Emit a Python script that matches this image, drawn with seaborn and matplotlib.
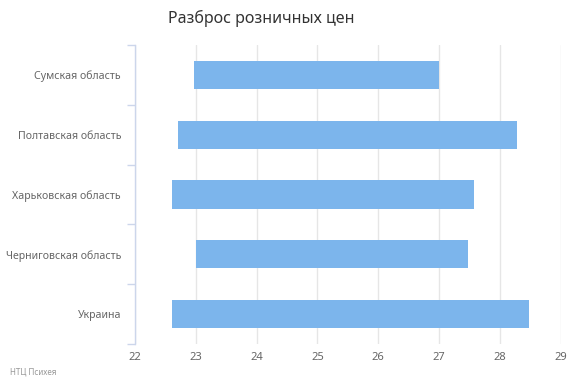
import matplotlib
matplotlib.use("Agg")
import matplotlib.pyplot as plt
import seaborn as sns
import pandas as pd
import numpy as np

categories = ["Сумская область", "Полтавская область", "Харьковская область",
              "Черниговская область", "Украина"]
low = [22.97, 22.71, 22.61, 23.01, 22.61]
high = [27.0, 28.28, 27.58, 27.48, 28.48]
x_ticks = [22, 23, 24, 25, 26, 27, 28, 29]

title = "Разброс розничных цен"
credit = "НТЦ Психея"

df = pd.DataFrame({"cat": categories, "low": low, "high": high})
df["spread"] = df["high"] - df["low"]

sns.set_theme(style="white")
plt.rcParams["font.family"] = ["Noto Sans", "DejaVu Sans"]

fig = plt.figure(figsize=(5.7, 3.8), dpi=100)
ax = fig.add_axes([135 / 570, 1 - 344 / 380, (560.7 - 135) / 570, (344 - 45) / 380])

sns.barplot(data=df, x="spread", y="cat", order=categories, left=df["low"].values,
            color="#7cb5ec", saturation=1, width=0.47, ax=ax, zorder=3,
            edgecolor="none")

ax.set_xlim(22, 29)
ax.set_ylim(len(categories) - 0.5, -0.5)
ax.set_xticks(x_ticks)
ax.set_xticklabels([str(t) for t in x_ticks])
ax.grid(axis="x", color="#e6e6e6", linewidth=1, zorder=0)
ax.set_axisbelow(True)

for s in ["top", "right", "bottom"]:
    ax.spines[s].set_visible(False)
ax.spines["left"].set_color("#ccd6eb")
ax.spines["left"].set_linewidth(1)
ax.spines["left"].set_zorder(4)

ax.set_yticks(np.arange(-0.5, len(categories), 1.0), minor=True)
ax.tick_params(axis="y", which="minor", length=6, width=1, color="#ccd6eb", left=True)
ax.tick_params(axis="y", which="major", length=0, pad=10, labelsize=7.6, labelcolor="#666666")
ax.tick_params(axis="x", which="major", length=0, pad=6, labelsize=8, labelcolor="#666666")

ax.set_xlabel("")
ax.set_ylabel("")

fig.text(261 / 570, 1 - 18 / 380, title, ha="center", va="center", fontsize=11.5, color="#333333")
fig.text(10 / 570, 1 - 372 / 380, credit, ha="left", va="center", fontsize=5.8, color="#999999")

fig.savefig("out.png", dpi=100)
